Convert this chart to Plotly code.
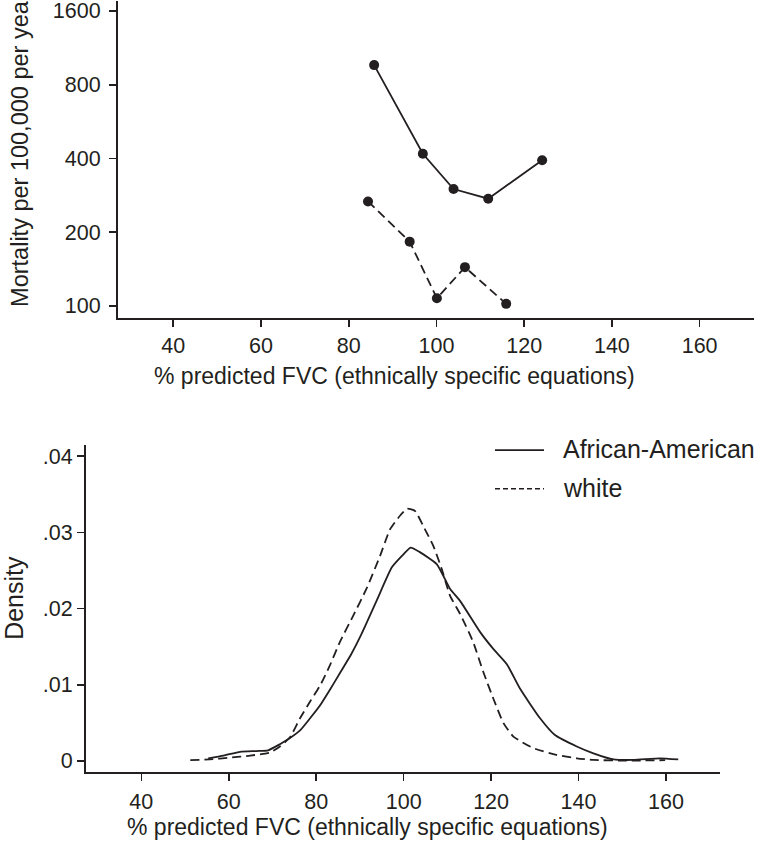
import plotly.graph_objects as go
import math

# ---------------- data ----------------
# Top panel: mortality vs % predicted FVC
aa_fvc = [85.8, 96.9, 103.9, 111.8, 124.1]
aa_mort = [962, 418, 300, 274, 393]
wh_fvc = [84.4, 93.9, 100.1, 106.5, 115.9]
wh_mort = [267, 183, 107.5, 144, 102]

mort_ticks = [100, 200, 400, 800, 1600]
mort_ticklabels = ["100", "200", "400", "800", "1600"]

# Bottom panel: density of % predicted FVC
aa_dens_x = [55.3, 58.8, 62.6, 66.4, 69.0, 71.7, 74.0, 76.3, 78.6, 80.9, 83.1, 85.4,
             88.0, 90.4, 93.8, 97.3, 99.6, 101.6, 103.7, 107.6, 110.6, 112.9, 117.5,
             120.5, 123.6, 126.6, 131.2, 134.6, 139.6, 143.4, 148.0, 152.5, 158.6, 162.8]
aa_dens_y = [0.00035, 0.0007, 0.0012, 0.0013, 0.0014, 0.0022, 0.0030, 0.0040, 0.0056,
             0.0073, 0.0093, 0.0115, 0.0140, 0.0167, 0.0210, 0.0254, 0.0269, 0.0280,
             0.0274, 0.0258, 0.0226, 0.0210, 0.0169, 0.0147, 0.0127, 0.0095, 0.0056,
             0.0034, 0.0019, 0.0010, 0.0002, 0.00013, 0.00035, 0.0002]
wh_dens_x = [51.2, 55.6, 60.3, 64.9, 69.4, 71.7, 74.0, 76.3, 78.6, 80.9, 83.1, 85.4,
             88.5, 91.5, 94.6, 96.9, 99.2, 100.8, 102.6, 104.5, 106.8, 108.7, 110.6,
             112.9, 115.9, 118.2, 120.5, 122.8, 125.1, 129.6, 134.9, 139.6, 143.4,
             151.0, 159.8]
wh_dens_y = [0.0001, 0.0002, 0.00044, 0.0007, 0.0011, 0.0019, 0.0031, 0.0056, 0.0078,
             0.0099, 0.0125, 0.0156, 0.0191, 0.0226, 0.0269, 0.0304, 0.0322, 0.0331,
             0.0328, 0.0308, 0.0282, 0.0252, 0.0217, 0.0193, 0.0156, 0.0117, 0.0082,
             0.0050, 0.0032, 0.0017, 0.0008, 0.00035, 0.00013, 0.00005, 0.0001]

dens_ticks = [0, 0.01, 0.02, 0.03, 0.04]
dens_ticklabels = ["0", ".01", ".02", ".03", ".04"]
fvc_ticks = [40, 60, 80, 100, 120, 140, 160]
fvc_ticklabels = ["40", "60", "80", "100", "120", "140", "160"]

series_names = ["African-American", "white"]
x_title = "% predicted FVC (ethnically specific equations)"
y_title_top = "Mortality per 100,000 per year"
y_title_bottom = "Density"

# ---------------- layout helpers ----------------
W, H = 760, 843
INK = "#231f20"
FONT = "Liberation Sans, Arial, Helvetica, sans-serif"

def px(x):
    return x / W

def py(y):
    return (H - y) / H

fig = go.Figure()

fig.add_trace(go.Scatter(x=aa_fvc, y=aa_mort, mode="lines+markers", name=series_names[0],
                         line=dict(color=INK, width=1.8),
                         marker=dict(size=10, color=INK), xaxis="x", yaxis="y"))
fig.add_trace(go.Scatter(x=wh_fvc, y=wh_mort, mode="lines+markers", name=series_names[1],
                         line=dict(color=INK, width=1.8, dash="9px,5px"),
                         marker=dict(size=10, color=INK), xaxis="x", yaxis="y"))
fig.add_trace(go.Scatter(x=aa_dens_x, y=aa_dens_y, mode="lines", name=series_names[0],
                         line=dict(color=INK, width=1.8, shape="spline", smoothing=0.5),
                         xaxis="x2", yaxis="y2"))
fig.add_trace(go.Scatter(x=wh_dens_x, y=wh_dens_y, mode="lines", name=series_names[1],
                         line=dict(color=INK, width=1.8, dash="9px,5px", shape="spline",
                                   smoothing=0.5),
                         xaxis="x2", yaxis="y2"))

axis_common = dict(showline=True, linecolor=INK, linewidth=2, ticks="outside",
                   ticklen=7, tickwidth=1.6, tickcolor=INK, showgrid=False,
                   zeroline=False, ticklabeloverflow="allow",
                   tickfont=dict(size=21.5, color=INK, family=FONT))

fig.update_layout(
    width=W, height=H, margin=dict(l=0, r=0, t=0, b=0),
    paper_bgcolor="white", plot_bgcolor="white", showlegend=False,
    font=dict(family=FONT, color=INK),
    xaxis=dict(domain=[px(118), px(754)], anchor="y", range=[27.4, 172.4],
               tickvals=fvc_ticks, ticktext=fvc_ticklabels, ticklabelstandoff=0,
               **axis_common),
    yaxis=dict(domain=[py(318), 1.0], anchor="x", type="log",
               range=[math.log10(89.4), math.log10(1757)],
               tickvals=mort_ticks, ticktext=mort_ticklabels, ticklabelstandoff=4,
               **axis_common),
    xaxis2=dict(domain=[px(86), px(720)], anchor="y2", range=[27.35, 172.35],
                tickvals=fvc_ticks, ticktext=fvc_ticklabels, ticklabelstandoff=3,
                **axis_common),
    yaxis2=dict(domain=[py(773.3), py(446)], anchor="x2", range=[-0.00139, 0.0414],
                tickvals=dens_ticks, ticktext=dens_ticklabels, ticklabelstandoff=0,
                **axis_common),
)

title_font = dict(size=23, color=INK, family=FONT)
annotations = [
    dict(text=x_title, x=px(394.5), y=py(376), xref="paper", yref="paper",
         xanchor="center", yanchor="middle", showarrow=False, font=title_font),
    dict(text=x_title, x=px(367), y=py(829), xref="paper", yref="paper",
         xanchor="center", yanchor="middle", showarrow=False, font=title_font),
    dict(text=y_title_top, x=px(20), y=py(309), xref="paper", yref="paper",
         xanchor="center", yanchor="bottom", textangle=-90, showarrow=False,
         font=dict(size=23.5, color=INK, family=FONT)),
    dict(text=y_title_bottom, x=px(14), y=py(599), xref="paper", yref="paper",
         xanchor="center", yanchor="middle", textangle=-90, showarrow=False,
         font=dict(size=25, color=INK, family=FONT)),
    dict(text=series_names[0], x=px(561), y=py(450), xref="paper", yref="paper",
         xanchor="left", yanchor="middle", showarrow=False,
         font=dict(size=25, color=INK, family=FONT)),
    dict(text=series_names[1], x=px(561), y=py(489), xref="paper", yref="paper",
         xanchor="left", yanchor="middle", showarrow=False,
         font=dict(size=25, color=INK, family=FONT)),
]
fig.update_layout(annotations=annotations)

# legend samples
fig.add_shape(type="line", xref="paper", yref="paper", x0=px(495), x1=px(544),
              y0=py(450.7), y1=py(450.7), line=dict(color=INK, width=1.6))
fig.add_shape(type="line", xref="paper", yref="paper", x0=px(495), x1=px(544),
              y0=py(489.5), y1=py(489.5), line=dict(color=INK, width=1.6, dash="5px,3px"))

fig.write_html(
    "out.html",
    config={"displayModeBar": False, "staticPlot": True},
    post_script="document.body.style.margin='0';document.body.style.overflow='hidden';",
)
